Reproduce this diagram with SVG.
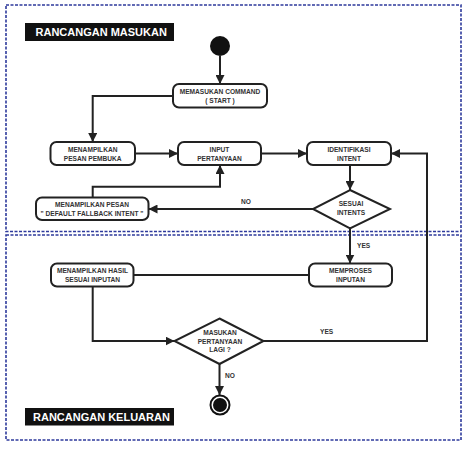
<svg xmlns="http://www.w3.org/2000/svg" width="473" height="449" viewBox="0 0 473 449">
<defs>
<marker id="ah" viewBox="0 0 10 10" refX="10" refY="5" markerWidth="4.5" markerHeight="4.5" orient="auto" markerUnits="strokeWidth">
<path d="M0,0 L10,5 L0,10 z" fill="#222"/>
</marker>
<style>
.frame{fill:none;stroke:#2e3a9c;stroke-width:1.6;stroke-dasharray:3 1.5}
.box{fill:#fff;stroke:#222;stroke-width:2}
.t{font-family:"Liberation Sans",Arial,sans-serif;font-weight:bold;font-size:6.6px;fill:#333;text-anchor:middle}
.lbl{font-family:"Liberation Sans",Arial,sans-serif;font-weight:bold;font-size:6.6px;fill:#333}
.title{font-family:"Liberation Sans",Arial,sans-serif;font-weight:bold;font-size:11px;fill:#fff}
.c{fill:none;stroke:#222;stroke-width:2}
</style>
</defs>
<rect width="473" height="449" fill="#fff"/>
<rect class="frame" x="6" y="5" width="455" height="226.5"/>
<rect class="frame" x="6" y="235" width="455" height="205"/>

<g id="title-masukan">
<rect x="25" y="23" width="149" height="18" fill="#111"/>
<text class="title" x="35.5" y="36">RANCANGAN MASUKAN</text>
</g>
<g id="title-keluaran">
<rect x="25" y="408" width="149" height="17.5" fill="#111"/>
<text class="title" x="33" y="421">RANCANGAN KELUARAN</text>
</g>

<g id="connectors">
<line class="c" x1="220" y1="56" x2="220" y2="84" marker-end="url(#ah)"/>
<polyline class="c" points="173,96 92.7,96 92.7,142" marker-end="url(#ah)"/>
<line class="c" x1="135" y1="153.5" x2="178" y2="153.5" marker-end="url(#ah)"/>
<line class="c" x1="261" y1="153.5" x2="307" y2="153.5" marker-end="url(#ah)"/>
<line class="c" x1="350" y1="165" x2="350" y2="190" marker-end="url(#ah)"/>
<line class="c" x1="313" y1="209" x2="148.5" y2="209" marker-end="url(#ah)"/>
<polyline class="c" points="92.7,197.5 92.7,186.7 220,186.7 220,165" marker-end="url(#ah)"/>
<line class="c" x1="350" y1="228.5" x2="350" y2="263.5" marker-end="url(#ah)"/>
<line class="c" x1="309" y1="275" x2="133.5" y2="275"/>
<polyline class="c" points="92.7,286.7 92.7,341 174.5,341" marker-end="url(#ah)"/>
<polyline class="c" points="263.5,341 427,341 427,153.5 391,153.5" marker-end="url(#ah)"/>
<line class="c" x1="219.5" y1="364" x2="219.5" y2="395" marker-end="url(#ah)"/>
<text class="lbl" x="241" y="203.5">NO</text>
<text class="lbl" x="357" y="248">YES</text>
<text class="lbl" x="320" y="333.5">YES</text>
<text class="lbl" x="225" y="377.5">NO</text>
</g>

<g id="start">
<circle cx="220" cy="46" r="10" fill="#111"/>
</g>
<g id="memasukan-command">
<rect class="box" x="173" y="84" width="94" height="23.5" rx="6"/>
<text class="t" x="220" y="94">MEMASUKAN COMMAND</text>
<text class="t" x="220" y="103">( START )</text>
</g>
<g id="pesan-pembuka">
<rect class="box" x="50.5" y="142" width="84.5" height="23" rx="6"/>
<text class="t" x="92.7" y="151.5">MENAMPILKAN</text>
<text class="t" x="92.7" y="160.5">PESAN PEMBUKA</text>
</g>
<g id="input-pertanyaan">
<rect class="box" x="178" y="142" width="83" height="23" rx="6"/>
<text class="t" x="219.5" y="151.5">INPUT</text>
<text class="t" x="219.5" y="160.5">PERTANYAAN</text>
</g>
<g id="identifikasi-intent">
<rect class="box" x="307" y="142" width="84" height="23" rx="6"/>
<text class="t" x="349" y="151.5">IDENTIFIKASI</text>
<text class="t" x="349" y="160.5">INTENT</text>
</g>
<g id="sesuai-intents">
<polygon class="box" points="350,190 390,209 350,228.5 313,209"/>
<text class="t" x="351" y="206">SESUAI</text>
<text class="t" x="351" y="215">INTENTS</text>
</g>
<g id="default-fallback">
<rect class="box" x="36" y="197.5" width="112.5" height="22.5" rx="6"/>
<text class="t" x="92" y="206.5">MENAMPILKAN PESAN</text>
<text class="t" x="92" y="215.5">" DEFAULT FALLBACK INTENT "</text>
</g>
<g id="memproses-inputan">
<rect class="box" x="309" y="263.5" width="83" height="23" rx="6"/>
<text class="t" x="350.5" y="273">MEMPROSES</text>
<text class="t" x="350.5" y="282">INPUTAN</text>
</g>
<g id="menampilkan-hasil">
<rect class="box" x="51" y="263.5" width="82.5" height="23" rx="6"/>
<text class="t" x="92.5" y="273">MENAMPILKAN HASIL</text>
<text class="t" x="92.5" y="282">SESUAI INPUTAN</text>
</g>
<g id="masukan-lagi">
<polygon class="box" points="219.5,318.5 263.5,341 219.5,364 174.5,341"/>
<text class="t" x="220" y="335">MASUKAN</text>
<text class="t" x="220" y="343.5">PERTANYAAN</text>
<text class="t" x="220" y="352">LAGI ?</text>
</g>
<g id="end">
<circle cx="220" cy="405" r="9.5" fill="#fff" stroke="#111" stroke-width="2"/>
<circle cx="220" cy="405" r="7" fill="#111"/>
</g>
</svg>
